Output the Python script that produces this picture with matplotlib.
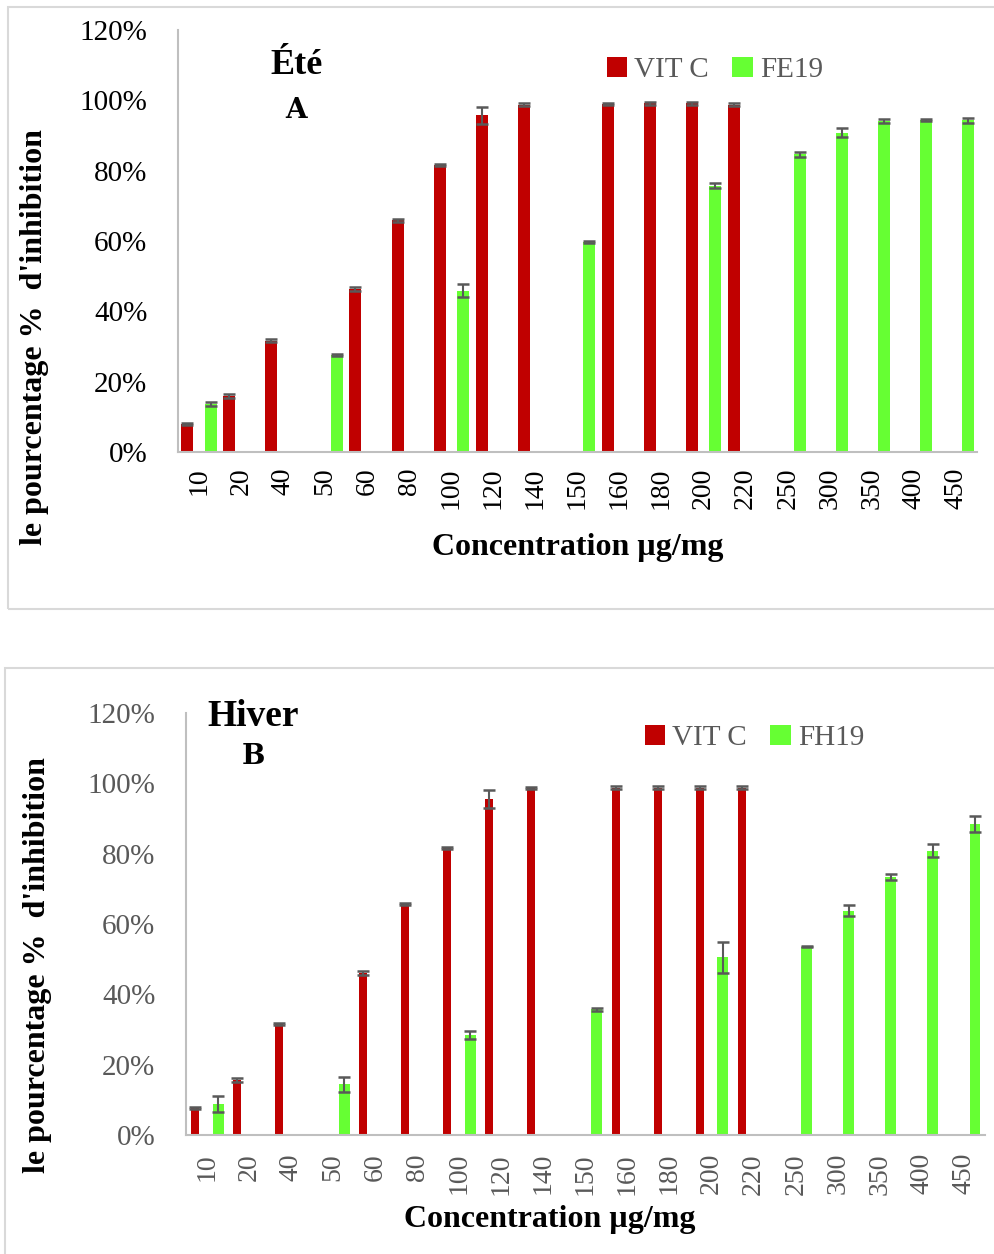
"""
Antioxidant activity (% inhibition) vs concentration, summer (A) and winter (B)
extracts compared to vitamin C.
"""
import numpy as np
import matplotlib
matplotlib.use("Agg")
import matplotlib.pyplot as plt
from matplotlib.patches import Rectangle

nan = np.nan

CONC = ["10", "20", "40", "50", "60", "80", "100", "120", "140", "150",
        "160", "180", "200", "220", "250", "300", "350", "400", "450"]

# summer (Été)
VITC_A = [8.0, 15.9, 31.7, nan, 46.4, 65.9, 81.7, 95.7, 98.8, nan,
          99.0, 99.1, 99.1, 98.8, nan, nan, nan, nan, nan]
VITC_A_ERR = [0.3, 0.6, 0.3, nan, 0.5, 0.4, 0.3, 2.5, 0.3, nan,
              0.3, 0.3, 0.3, 0.5, nan, nan, nan, nan, nan]
FE19 = [13.7, nan, nan, 27.6, nan, nan, 45.9, nan, nan, 59.7,
        nan, nan, 75.7, nan, 84.6, 90.8, 94.1, 94.5, 94.3]
FE19_ERR = [0.6, nan, nan, 0.3, nan, nan, 1.75, nan, nan, 0.3,
            nan, nan, 0.7, nan, 0.75, 1.3, 0.5, 0.3, 0.8]

# winter (Hiver)
VITC_B = [7.8, 15.6, 31.5, nan, 46.1, 65.7, 81.6, 95.5, 98.6, nan,
          98.8, 98.8, 98.8, 98.7, nan, nan, nan, nan, nan]
VITC_B_ERR = [0.3, 0.5, 0.3, nan, 0.5, 0.4, 0.3, 2.5, 0.3, nan,
              0.3, 0.3, 0.3, 0.4, nan, nan, nan, nan, nan]
FH19 = [8.9, nan, nan, 14.4, nan, nan, 28.5, nan, nan, 35.7,
        nan, nan, 50.5, nan, 53.6, 63.8, 73.4, 80.9, 88.4]
FH19_ERR = [2.3, nan, nan, 2.1, nan, nan, 1.1, nan, nan, 0.5,
            nan, nan, 4.4, nan, 0.2, 1.6, 0.85, 1.9, 2.2]

RED = "#C00000"
GREEN = "#66FF33"
GREY = "#595959"
SPINE = "#BFBFBF"
W, H = 995, 1254

plt.rcParams["font.family"] = ["Liberation Serif", "DejaVu Serif"]


def fx(px):
    return px / W


def fy(py):
    return 1 - py / H


def series(ax, vals, errs, off, width, color, label):
    x = np.arange(len(CONC)) + off
    v = np.asarray(vals, float)
    e = np.asarray(errs, float)
    m = np.isfinite(v)
    ax.bar(x[m], v[m], width=width, color=color, label=label, zorder=2)
    ax.errorbar(x[m], v[m], yerr=e[m], fmt="none", ecolor=GREY,
                elinewidth=1.5, capsize=4.3, capthick=1.8, zorder=3)


def panel(ax, second, name, tickcol, xpad):
    series(ax, VITC_A if not second else VITC_B,
           VITC_A_ERR if not second else VITC_B_ERR,
           -0.28 if not second else -0.286,
           0.286 if not second else 0.19, RED, "VIT C")
    series(ax, FE19 if not second else FH19,
           FE19_ERR if not second else FH19_ERR,
           0.28 if not second else 0.262,
           0.286 if not second else 0.26, GREEN, name)
    ax.set_xlim(-0.5, len(CONC) - 0.5)
    ax.set_ylim(0, 120)
    ax.set_yticks(np.arange(0, 121, 20))
    ax.set_yticklabels([f"{t}%" for t in range(0, 121, 20)])
    ax.set_xticks(np.arange(len(CONC)))
    ax.set_xticklabels(CONC, rotation=90)
    ax.tick_params(axis="y", length=0, pad=22, labelsize=21, labelcolor=tickcol)
    ax.tick_params(axis="x", length=0, pad=xpad, labelsize=20, labelcolor=tickcol)
    for s in ("top", "right"):
        ax.spines[s].set_visible(False)
    for s in ("left", "bottom"):
        ax.spines[s].set_color(SPINE)
        ax.spines[s].set_linewidth(1.5)


fig = plt.figure(figsize=(W / 100, H / 100), dpi=100)

# chart-area frames
fig.add_artist(Rectangle((fx(8), fy(609)), 1.1, fy(7.5) - fy(609),
                         transform=fig.transFigure, fill=False,
                         ec="#D9D9D9", lw=1.5))
fig.add_artist(Rectangle((fx(5), -0.1), 1.1, fy(668) + 0.1,
                         transform=fig.transFigure, fill=False,
                         ec="#D9D9D9", lw=1.5))

axA = fig.add_axes([fx(178), fy(452), fx(799), (452 - 30) / H])
panel(axA, False, "FE19", "black", 11)
axB = fig.add_axes([fx(186), fy(1135), fx(799), (1135 - 713) / H])
panel(axB, True, "FH19", GREY, 13)

for ax, lx, ly in ((axA, 592, 70), (axB, 630, 738)):
    ax.legend(loc="center left", bbox_to_anchor=(fx(lx), fy(ly)),
              bbox_transform=fig.transFigure, ncol=2, frameon=False,
              fontsize=21, labelcolor=GREY, handlelength=0.7, handleheight=0.7,
              handletextpad=0.25, columnspacing=0.8, borderpad=0)

# y labels
fig.text(fx(35), fy(337), "le pourcentage %  d'inhibition", rotation=90,
         ha="center", va="center", fontsize=23, fontweight="bold")
fig.text(fx(38), fy(965), "le pourcentage %  d'inhibition", rotation=90,
         ha="center", va="center", fontsize=23, fontweight="bold")
# x labels
fig.text(fx(578), fy(547), "Concentration µg/mg", ha="center", va="center",
         fontsize=23, fontweight="bold")
fig.text(fx(550), fy(1220), "Concentration µg/mg", ha="center", va="center",
         fontsize=23, fontweight="bold")

# season tags
fig.text(fx(297), fy(65), "Été", ha="center", va="center",
         fontsize=26, fontweight="bold")
fig.text(fx(296), fy(110), "A", ha="center", va="center",
         fontsize=20, fontweight="bold", family="DejaVu Serif")
fig.text(fx(253), fy(716), "Hiver", ha="center", va="center",
         fontsize=27, fontweight="bold")
fig.text(fx(253), fy(757), "B", ha="center", va="center",
         fontsize=20, fontweight="bold", family="DejaVu Serif")

fig.savefig("out.png", dpi=100, facecolor="white")
